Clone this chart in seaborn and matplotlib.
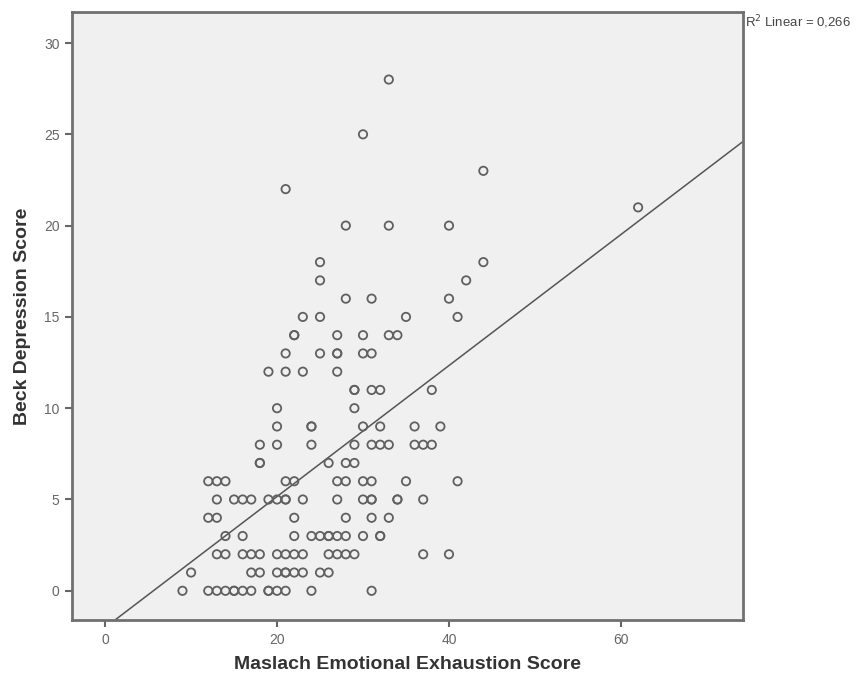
import numpy as np
import pandas as pd
import matplotlib
matplotlib.use("Agg")
import matplotlib.pyplot as plt
import seaborn as sns

# Maslach score (x) grouped by Beck score (y)
beck_levels = [0, 1, 2, 3, 4, 5, 6, 7, 8, 9, 10, 11, 12, 13, 14, 15, 16, 17, 18, 20, 21, 22, 23, 25, 28]
maslach_by_beck = [
    [9, 12, 13, 14, 15, 15, 16, 17, 19, 19, 20, 21, 24, 31],
    [10, 17, 18, 20, 21, 21, 22, 23, 25, 26],
    [13, 14, 16, 17, 18, 20, 21, 22, 23, 26, 27, 28, 29, 37, 40],
    [14, 16, 22, 24, 25, 26, 26, 27, 28, 30, 32, 32],
    [12, 13, 22, 28, 31, 33],
    [13, 15, 16, 17, 19, 20, 21, 21, 23, 27, 30, 31, 31, 34, 34, 37],
    [12, 13, 14, 21, 22, 27, 28, 30, 31, 35, 41],
    [18, 18, 26, 28, 29],
    [18, 20, 24, 29, 31, 32, 33, 36, 37, 38],
    [20, 24, 24, 30, 32, 36, 39],
    [20, 29],
    [29, 29, 31, 32, 38],
    [19, 21, 23, 27],
    [21, 25, 27, 27, 30, 31],
    [22, 22, 27, 30, 33, 34],
    [23, 25, 35, 41],
    [28, 31, 40],
    [25, 42],
    [25, 44],
    [28, 33, 40],
    [62],
    [21],
    [44],
    [30],
    [33],
]
x_ticks = [0, 20, 40, 60]
y_ticks = [0, 5, 10, 15, 20, 25, 30]
r2_label = "R$^2$ Linear = 0,266"

rows = []
for b, xs in zip(beck_levels, maslach_by_beck):
    for m in xs:
        rows.append((m, b))
df = pd.DataFrame(rows, columns=["maslach", "beck"])

sns.set_style("white")
plt.rcParams["font.family"] = ["Liberation Sans", "DejaVu Sans"]

fig = plt.figure(figsize=(8.64, 6.82), dpi=100)
ax = fig.add_axes([72 / 864, 1 - 620 / 682, (743 - 72) / 864, (620 - 12) / 682])
ax.set_facecolor("#f0f0f0")
ax.set_xlim(-3.85, 74.2)
ax.set_ylim(-1.6, 31.7)

sns.regplot(data=df, x="maslach", y="beck", ax=ax, scatter=False, ci=None,
            truncate=False, line_kws=dict(color="#555555", lw=1.1))
sns.scatterplot(data=df, x="maslach", y="beck", ax=ax, marker="o", s=36,
                facecolors="none", edgecolor="#606060", linewidth=1.3, zorder=3)

ax.set_xlim(-3.85, 74.2)
ax.set_ylim(-1.6, 31.7)
ax.set_xticks(x_ticks)
ax.set_yticks(y_ticks)
ax.tick_params(axis="both", which="both", direction="out", length=5, width=1.5,
               color="#666666", labelcolor="#666666", labelsize=10, pad=4,
               bottom=True, left=True)
for s in ax.spines.values():
    s.set_color("#707070")
    s.set_linewidth(2.0)

ax.set_xlabel("Maslach Emotional Exhaustion Score", fontsize=14, fontweight="bold",
              color="#333333", labelpad=7)
ax.set_ylabel("Beck Depression Score", fontsize=14, fontweight="bold",
              color="#333333", labelpad=9)

fig.text(745 / 864, 1 - 22 / 682, r2_label, fontsize=9.5, color="#444444",
         ha="left", va="center")

fig.savefig("out.png", dpi=100, facecolor="white")
